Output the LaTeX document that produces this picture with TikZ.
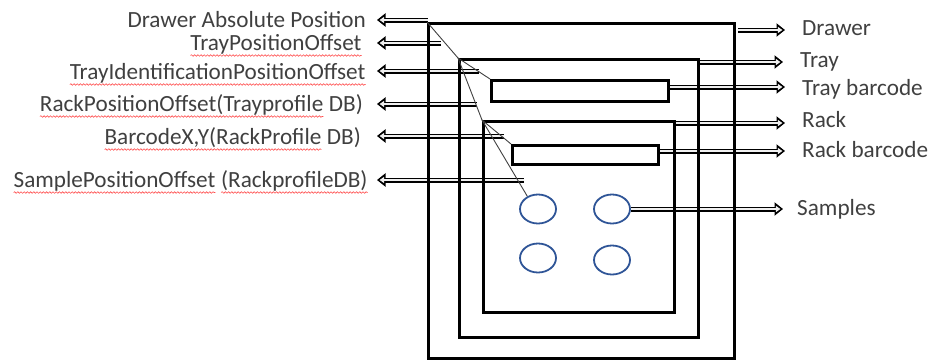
\documentclass[tikz,border=0pt]{standalone}
\usepackage{fontspec}
\setmainfont{Carlito}
\usetikzlibrary{arrows.meta,shapes.geometric,decorations.pathmorphing}

\definecolor{txt}{RGB}{64,64,64}
\definecolor{well}{RGB}{47,85,151}
% spell-checker style wavy underline
\newcommand\spellmark[1]{\tikz[baseline=(spellw.base), x=1cm, y=1cm]{%
  \node[inner sep=0pt, outer sep=0pt, anchor=base] (spellw) {#1};
  \draw[red!70, line width=0.6pt, decorate,
        decoration={snake, amplitude=0.8pt, segment length=3.2pt}]
    ([yshift=-5.5pt]spellw.base west) -- ([yshift=-5.5pt]spellw.base east);}}

\tikzset{
  box/.style={draw=black, line width=2.6pt, anchor=north west, inner sep=0pt},
  lead/.style={draw=black!75, line width=0.9pt},
  % hollow block arrow: a black body with a pale core drawn inside it
  fatarrow/.style={draw=black!6, line width=2pt,
    -{Triangle[length=4.5pt, width=6pt]}, shorten >=2.6pt,
    preaction={draw=black, line width=5pt,
      -{Triangle[length=8.5pt, width=13pt]}, shorten >=0pt}},
  lbl/.style={font=\fontsize{23.2}{28}\selectfont, text=txt, inner sep=0pt},
  leftlbl/.style={lbl, anchor=base east},
  rightlbl/.style={lbl, anchor=base west},
  sample/.style={ellipse, draw=well, line width=1.8pt, minimum width=36pt,
    minimum height=29pt, inner sep=0pt}
}

\begin{document}
\begin{tikzpicture}[x=1pt, y=-1pt]
\useasboundingbox (0,0) rectangle (942,360);

% labels on the left
\node[leftlbl] (lDrawerPos) at (366,27) {Drawer Absolute Position};
\node[leftlbl] (lTrayOff)   at (362,50) {\spellmark{TrayPositionOffset}};
\node[leftlbl] (lTrayId)    at (366,79) {\spellmark{TrayIdentificationPositionOffset}};
\node[leftlbl] (lRackOff)   at (363,111) {\spellmark{RackPositionOffset(Trayprofile} DB)};
\node[leftlbl] (lBarcode)   at (361,144) {\spellmark{BarcodeX,Y(RackProfile} DB)};
\node[leftlbl] (lSampleOff) at (368,187) {\spellmark{SamplePositionOffset} \spellmark{(RackprofileDB)}};

% labels on the right
\node[rightlbl] (rDrawer)  at (802,35)  {Drawer};
\node[rightlbl] (rTray)    at (800,67)  {Tray};
\node[rightlbl] (rTrayBc)  at (802,95)  {Tray barcode};
\node[rightlbl] (rRack)    at (802,127) {Rack};
\node[rightlbl] (rRackBc)  at (802,157) {Rack barcode};
\node[rightlbl] (rSamples) at (797,215) {Samples};

% sample wells
\node[sample] (s1) at (538,209) {};
\node[sample] (s2) at (612,209) {};
\node[sample] (s3) at (538,258) {};
\node[sample] (s4) at (612,260) {};

% arrow tails
\coordinate (tDrawerPos) at (428,20);
\coordinate (tTrayOff)   at (441,43);
\coordinate (tTrayId)    at (479,71);
\coordinate (tRackOff)   at (477,104);
\coordinate (tBarcode)   at (504,136);
\coordinate (tSampleOff) at (524,180);
\coordinate (tDrawer)    at (738,30);
\coordinate (tTray)      at (697,62);
\coordinate (tTrayBc)    at (667,87);
\coordinate (tRack)      at (673,123);
\coordinate (tRackBc)    at (657,151);
\coordinate (tSamples)   at (s2.east);

% outgoing arrows to the left, all ending at x = 377
\foreach \n in {DrawerPos,TrayOff,TrayId,RackOff,Barcode,SampleOff}
  \draw[fatarrow] (t\n) -- (t\n -| 377,0);

% outgoing arrows to the right, heads just before the labels
\foreach \n in {Drawer,Tray,TrayBc,Rack,RackBc}
  \draw[fatarrow] (t\n) -- ([xshift=-17pt]t\n -| r\n.west);
\draw[fatarrow] (tSamples) -- ([xshift=-14pt]tSamples -| rSamples.west);

% nested drawer / tray / rack frames
\node[box, minimum width=306pt, minimum height=335pt] (drawer) at (427,22) {};
\node[box, minimum width=239pt, minimum height=278pt] (tray)   at (458,58) {};
\node[box, minimum width=191pt, minimum height=191pt] (rack)   at (482,120) {};
\node[box, fill=white, minimum width=177pt, minimum height=21pt] (trayBc) at (490,79) {};
\node[box, fill=white, minimum width=146pt, minimum height=19pt] (rackBc) at (511,144) {};

% thin leader lines between the frame corners
\draw[lead] (drawer.north west) -- (tray.north west);
\draw[lead] (tray.north west) -- (trayBc.north west);
\draw[lead] (tray.north west) -- (rack.north west);
\draw[lead] (rack.north west) -- (rackBc.north west);
\draw[lead] (rack.north west) -- (s1.130);
\end{tikzpicture}
\end{document}
